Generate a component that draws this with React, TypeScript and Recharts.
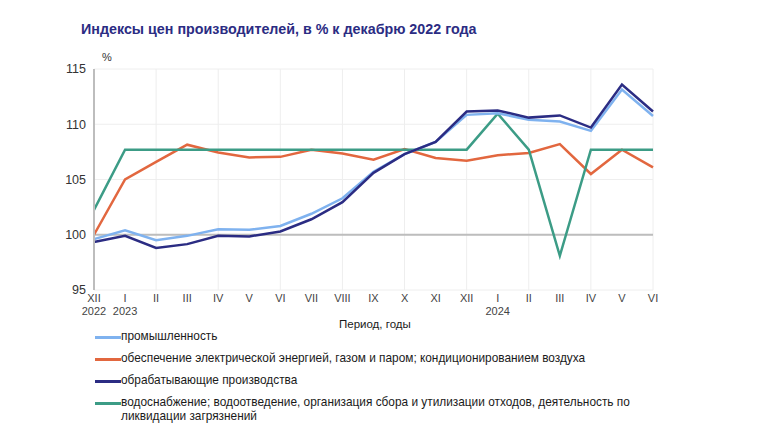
import { CartesianGrid, Line, LineChart, ReferenceLine, XAxis, YAxis } from "recharts";

const periods = [
  "2022-12", "2023-01", "2023-02", "2023-03", "2023-04", "2023-05", "2023-06", "2023-07", "2023-08", "2023-09",
  "2023-10", "2023-11", "2023-12", "2024-01", "2024-02", "2024-03", "2024-04", "2024-05", "2024-06",
];
const monthLabels = ["XII", "I", "II", "III", "IV", "V", "VI", "VII", "VIII", "IX", "X", "XI", "XII", "I", "II", "III", "IV", "V", "VI"];
const yearLabels = ["2022", "2023", "", "", "", "", "", "", "", "", "", "", "", "2024", "", "", "", "", ""];

const industry = [99.6, 100.4, 99.5, 99.9, 100.5, 100.45, 100.8, 101.9, 103.3, 105.7, 107.3, 108.4, 110.85, 111.0, 110.4, 110.25, 109.4, 113.15, 110.75];
const energy = [100.0, 105.0, 106.6, 108.15, 107.45, 107.0, 107.05, 107.7, 107.35, 106.8, 107.75, 106.95, 106.7, 107.2, 107.4, 108.2, 105.5, 107.7, 106.1];
const manufacturing = [99.35, 99.9, 98.8, 99.15, 99.9, 99.85, 100.3, 101.4, 102.95, 105.6, 107.3, 108.4, 111.15, 111.25, 110.6, 110.8, 109.7, 113.6, 111.15];
const water = [102.25, 107.7, 107.7, 107.7, 107.7, 107.7, 107.7, 107.7, 107.7, 107.7, 107.7, 107.7, 107.7, 110.95, 107.7, 98.1, 107.7, 107.7, 107.7];

const yTicks = [95, 100, 105, 110, 115];

const series = [
  { key: "industry", name: "промышленность", color: "#7fb2ef" },
  { key: "energy", name: "обеспечение электрической энергией, газом и паром; кондиционированием воздуха", color: "#e2673f" },
  { key: "manufacturing", name: "обрабатывающие производства", color: "#2b2c83" },
  {
    key: "water",
    name: "водоснабжение; водоотведение, организация сбора и утилизации отходов, деятельность по",
    name2: "ликвидации загрязнений",
    color: "#3c9c86",
  },
];

const data = periods.map((p, i) => ({
  p,
  industry: industry[i],
  energy: energy[i],
  manufacturing: manufacturing[i],
  water: water[i],
}));

const FONT = "'Liberation Sans', Arial, sans-serif";

function MonthTick({ x, y, index }: any) {
  return (
    <g>
      <text x={x} y={y + 4} textAnchor="middle" fontSize={11} fill="#444" fontFamily={FONT}>
        {monthLabels[index]}
      </text>
      {yearLabels[index] && (
        <text x={x} y={y + 17} textAnchor="middle" fontSize={11} fill="#444" fontFamily={FONT}>
          {yearLabels[index]}
        </text>
      )}
    </g>
  );
}

function LegendBox() {
  return (
    <div style={{ position: "absolute", left: 95, top: 330, width: 640, fontFamily: FONT, fontSize: 11.85, color: "#1a1a1a" }}>
      {series.map((s) => (
        <div key={s.key} style={{ display: "flex", alignItems: "flex-start", height: s.name2 ? 30 : 22 }}>
          <span style={{ width: 26, height: 3, background: s.color, marginTop: 6, flex: "none" }} />
          <span style={{ lineHeight: "13.5px" }}>
            {s.name}
            {s.name2 && <br />}
            {s.name2}
          </span>
        </div>
      ))}
    </div>
  );
}

export default function App() {
  return (
    <div style={{ position: "absolute", left: 0, top: 0, width: 768, height: 431, background: "#fff", fontFamily: FONT }}>
      <div style={{ position: "absolute", left: 81, top: 21, fontSize: 14.3, fontWeight: "bold", color: "#2b2c83" }}>
        Индексы цен производителей, в % к декабрю 2022 года
      </div>
      <div style={{ position: "absolute", left: 102, top: 51, fontSize: 11, color: "#333" }}>%</div>
      <div style={{ position: "absolute", left: 339, top: 318, fontSize: 11.5, color: "#1a1a1a" }}>Период, годы</div>
      <LineChart width={768} height={431} data={data} margin={{ top: 69, right: 115, bottom: 111, left: 0 }}>
        <CartesianGrid vertical={false} stroke="#eeeeee" />
        {periods
          .filter((_, i) => i % 2 === 0 && i > 0)
          .map((p) => (
            <ReferenceLine key={p} x={p} stroke="#eeeeee" />
          ))}
        <ReferenceLine y={100} stroke="#bdbdbd" strokeWidth={2} />
        <XAxis dataKey="p" axisLine={false} tickLine={false} interval={0} height={30} tick={<MonthTick />} />
        <YAxis
          domain={[95, 115]}
          ticks={yTicks}
          width={94}
          tickLine={false}
          axisLine={{ stroke: "#bdbdbd", strokeWidth: 2 }}
          tick={{ fontSize: 12.5, fill: "#333", fontFamily: FONT }}
        />
        <Line dataKey="energy" stroke="#e2673f" strokeWidth={2.5} dot={false} isAnimationActive={false} />
        <Line dataKey="water" stroke="#3c9c86" strokeWidth={2.5} dot={false} isAnimationActive={false} />
        <Line dataKey="industry" stroke="#7fb2ef" strokeWidth={2.5} dot={false} isAnimationActive={false} />
        <Line dataKey="manufacturing" stroke="#2b2c83" strokeWidth={2.5} dot={false} isAnimationActive={false} />
      </LineChart>
      <LegendBox />
    </div>
  );
}
